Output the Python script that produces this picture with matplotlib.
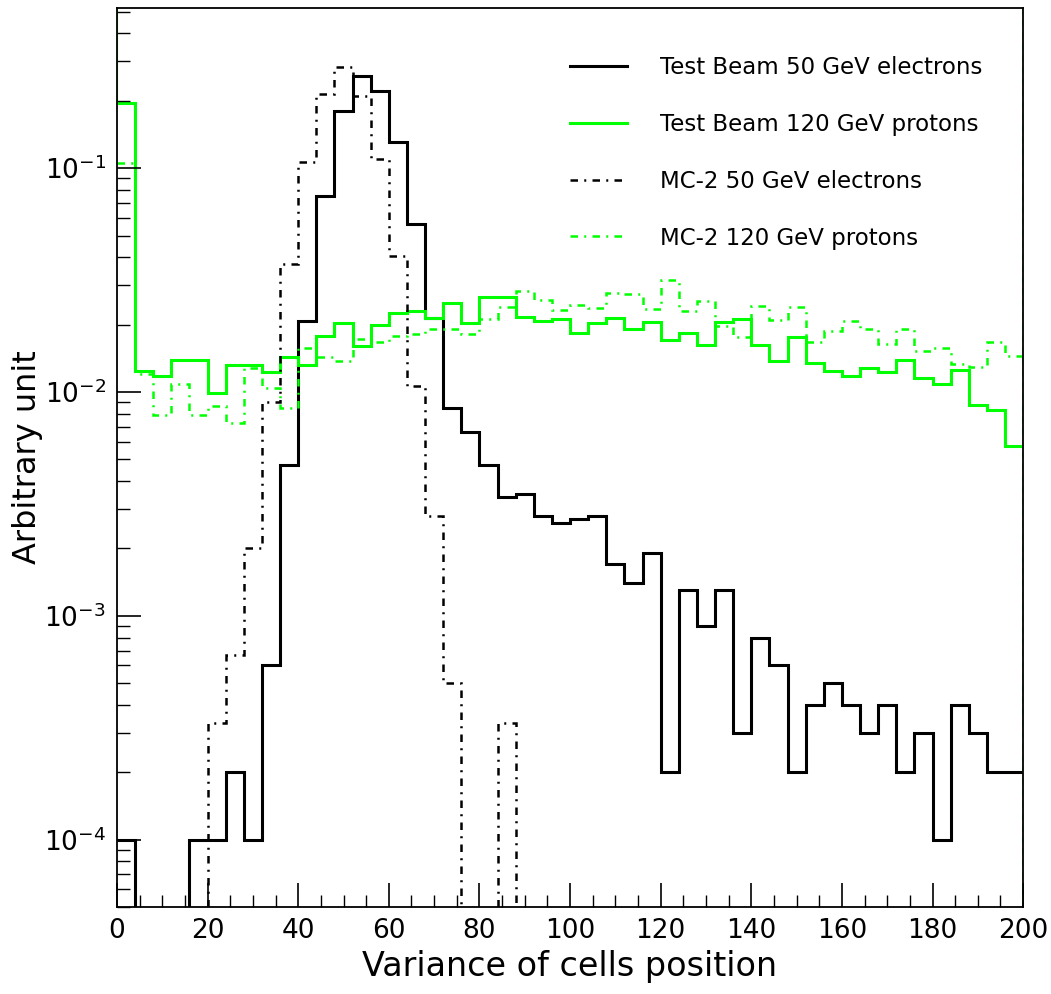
import numpy as np
import matplotlib
matplotlib.use("Agg")
from matplotlib import pyplot as plt
from matplotlib.ticker import MultipleLocator, LogLocator, FixedLocator, NullFormatter

# 50 bins of width 4 between 0 and 200
bin_edges = np.linspace(0, 200, 51)

tb_electrons = [1e-4, 0, 0, 0, 1e-4, 1e-4, 2e-4, 1e-4, 6e-4, 4.7e-3,
                0.0208, 0.075, 0.18, 0.258, 0.221, 0.131, 0.0561, 0.0215, 8.5e-3, 6.6e-3,
                4.7e-3, 3.4e-3, 3.5e-3, 2.8e-3, 2.6e-3, 2.7e-3, 2.8e-3, 1.7e-3, 1.4e-3, 1.9e-3,
                2e-4, 1.3e-3, 9e-4, 1.3e-3, 3e-4, 8e-4, 6e-4, 2e-4, 4e-4, 5e-4,
                4e-4, 3e-4, 4e-4, 2e-4, 3e-4, 1e-4, 4e-4, 3e-4, 2e-4, 2e-4]

tb_protons = [0.195, 0.01245, 0.01175, 0.0139, 0.0139, 9.86e-3, 0.0132, 0.0132, 0.0123, 0.0144,
              0.0132, 0.0178, 0.0203, 0.0161, 0.020, 0.0225, 0.0229, 0.0214, 0.0251, 0.0203,
              0.0267, 0.0267, 0.0217, 0.0208, 0.0213, 0.0183, 0.0203, 0.0215, 0.0191, 0.0206,
              0.0171, 0.0184, 0.0162, 0.0206, 0.0213, 0.0162, 0.0137, 0.0176, 0.0135, 0.0124,
              0.0118, 0.01276, 0.0123, 0.0139, 0.01155, 0.0109, 0.01253, 8.75e-3, 8.34e-3, 5.75e-3]

mc_electrons = [0, 0, 0, 0, 0, 3.33e-4, 6.67e-4, 2.0e-3, 9.0e-3, 0.0373,
                0.107, 0.214, 0.282, 0.21, 0.11, 0.0406, 0.0106, 2.8e-3, 5.0e-4, 0,
                0, 3.33e-4, 0, 0, 0, 0, 0, 0, 0, 0,
                0, 0, 0, 0, 0, 0, 0, 0, 0, 0,
                0, 0, 0, 0, 0, 0, 0, 0, 0, 0]

mc_protons = [0.105, 0.012, 7.9e-3, 0.0109, 7.9e-3, 8.7e-3, 7.3e-3, 0.0128, 0.0104, 8.5e-3,
              0.0158, 0.0143, 0.0137, 0.0173, 0.0168, 0.0178, 0.0181, 0.0192, 0.0192, 0.0181,
              0.0212, 0.0239, 0.0283, 0.0258, 0.0232, 0.0245, 0.0237, 0.0277, 0.0274, 0.0235,
              0.0316, 0.0229, 0.0256, 0.0198, 0.0177, 0.0243, 0.0209, 0.0239, 0.0168, 0.0188,
              0.0207, 0.0191, 0.0164, 0.0191, 0.0153, 0.0157, 0.0134, 0.0130, 0.0168, 0.0145]

labels = ["Test Beam 50 GeV electrons", "Test Beam 120 GeV protons",
          "MC-2 50 GeV electrons", "MC-2 120 GeV protons"]

green = '#00ff00'
dashdot = (0, (3, 2.5, 0.8, 2.5))

fig = plt.figure(figsize=(10.51, 9.94), dpi=100)
ax = fig.add_axes([0.1113, 0.0875, 0.8622, 0.9045])
ax.set_yscale('log', nonpositive='clip')

ax.stairs(tb_electrons, bin_edges, baseline=None, color='k', lw=2.2, label=labels[0])
ax.stairs(tb_protons, bin_edges, baseline=None, color=green, lw=2.2, label=labels[1])
ax.stairs(mc_electrons, bin_edges, baseline=None, color='k', lw=1.8, linestyle=dashdot, label=labels[2])
ax.stairs(mc_protons, bin_edges, baseline=None, color=green, lw=1.8, linestyle=dashdot, label=labels[3])

# histogram edges running up the frame like in the original
ax.plot([0, 0], [tb_protons[0], 1], color=green, lw=1.5)
ax.plot([200, 200], [1e-6, 1], color=green, lw=1.2, linestyle=(0, (4, 3)))

ax.set_xlim(0, 200)
ax.set_ylim(5e-5, 0.52)

ax.xaxis.set_major_locator(MultipleLocator(20))
ax.xaxis.set_minor_locator(MultipleLocator(5))
ax.yaxis.set_major_locator(FixedLocator([1e-4, 1e-3, 1e-2, 1e-1]))
ax.yaxis.set_minor_locator(LogLocator(base=10, subs=np.arange(2, 10)))
ax.yaxis.set_minor_formatter(NullFormatter())
ax.set_yticklabels([r'$10^{-4}$', r'$10^{-3}$', r'$10^{-2}$', r'$10^{-1}$'])

ax.tick_params(which='major', direction='in', length=17, width=1.2, labelsize=19, pad=8)
ax.tick_params(which='minor', direction='in', length=9, width=1.0)
for s in ax.spines.values():
    s.set_linewidth(1.3)

ax.set_xlabel("Variance of cells position", fontsize=24, labelpad=4)
ax.set_ylabel("Arbitrary unit", fontsize=23)
ax.yaxis.set_label_coords(-0.082, 0.5)

ax.legend(loc='upper right', bbox_to_anchor=(0.978, 0.969), frameon=False,
          fontsize=16.5, handlelength=2.5, handletextpad=1.45, labelspacing=1.47)

plt.savefig("out.png", dpi=100)
